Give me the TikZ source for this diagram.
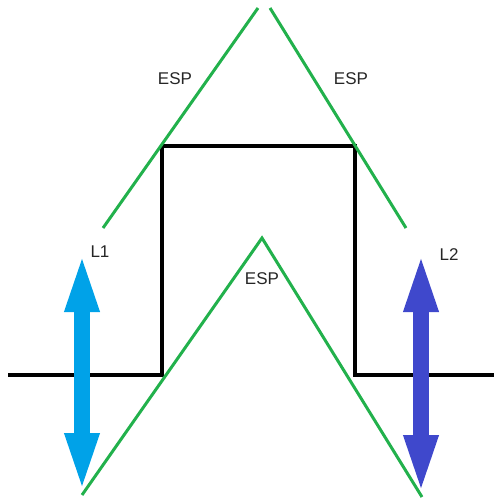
\documentclass[tikz,border=0pt]{standalone}
\usepackage{fontspec}
\setmainfont{Liberation Sans}
\usetikzlibrary{arrows.meta}
\definecolor{paintgreen}{RGB}{34,177,76}
\definecolor{lensone}{RGB}{0,162,232}
\definecolor{lenstwo}{RGB}{63,72,204}

\begin{document}
\begin{tikzpicture}[
    x=1pt,y=-1pt,
    beam/.style={draw=paintgreen,line width=3pt},
    wall/.style={draw=black,line width=4pt},
    lens/.style={line width=16pt,{Triangle[length=62pt,width=30pt]}-{Triangle[length=62pt,width=30pt]}},
    tag/.style={font=\fontsize{17}{20}\selectfont,text=black!85,inner sep=0pt}
  ]
  \useasboundingbox (0,0) rectangle (494,500);
  % black profile
  \draw[wall] (8,375) -- (162,375) -- (162,146) -- (355,146) -- (355,375) -- (494,375);
  % green rays
  \draw[beam] (103,228) -- (258,8);
  \draw[beam] (270,8) -- (406,228);
  \draw[beam] (82,495) -- (262,238) -- (422,497);
  % lenses
  \coordinate (l1top) at (82,250);
  \coordinate (l1bot) at (82,495);
  \coordinate (l2top) at (421,250);
  \coordinate (l2bot) at (421,497);
  \draw[lens,lensone] (l1top) -- (l1bot);
  \draw[lens,lenstwo] (l2top) -- (l2bot);
  % labels
  \node[tag] (espl) at (175,79) {ESP};
  \node[tag] (espr) at (351,79) {ESP};
  \node[tag] (espm) at (262,279) {ESP};
  \node[tag] (lone) at (100,252) {L1};
  \node[tag] (ltwo) at (449,255) {L2};
\end{tikzpicture}
\end{document}
